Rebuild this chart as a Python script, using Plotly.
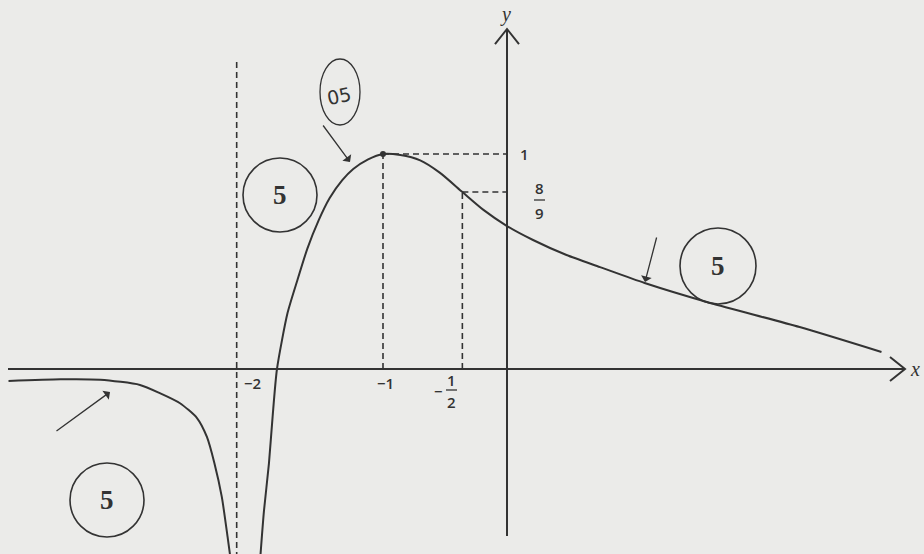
import plotly.graph_objects as go

# curve, in graph units (x: dot at -1, y: dot at 1)
left_x = [-4.02, -3.60, -3.28, -2.96, -2.80, -2.64, -2.50, -2.42, -2.36, -2.30, -2.25, -2.23]
left_y = [-0.056, -0.048, -0.050, -0.074, -0.112, -0.158, -0.228, -0.316, -0.437, -0.595, -0.795, -0.88]

right_x = [-1.99, -1.96, -1.92, -1.89, -1.855, -1.77, -1.69, -1.61, -1.52, -1.43, -1.33,
           -1.24, -1.12, -1.0, -0.86, -0.70, -0.54, -0.36, -0.19, 0.0, 0.21, 0.48,
           0.75, 1.11, 1.64, 2.36, 3.02]
right_y = [-0.88, -0.66, -0.44, -0.22, 0.0, 0.260, 0.414, 0.560, 0.690, 0.795, 0.877,
           0.930, 0.975, 1.0, 0.995, 0.970, 0.912, 0.823, 0.740, 0.665, 0.600, 0.530,
           0.474, 0.400, 0.307, 0.195, 0.079]

asymptote_x = -2.18
max_pt = (-1.0, 1.0)
half_pt = (-0.36, 0.823)

x_tick_labels = ["\u22122", "\u22121"]
x_tick_pos = [-2.05, -0.98]

INK = "#333333"
PAPER = "#ebebe9"


# the scan is 124 px per x unit, 215 px per y unit, origin at (507, 369)
def u(px, py):
    return (px - 507) / 124, (369 - py) / 215


fig = go.Figure()

curve_line = dict(color=INK, width=2, shape="spline", smoothing=0.65)
fig.add_trace(go.Scatter(x=left_x, y=left_y, mode="lines", line=curve_line, hoverinfo="skip"))
fig.add_trace(go.Scatter(x=right_x, y=right_y, mode="lines", line=curve_line, hoverinfo="skip"))
fig.add_trace(go.Scatter(x=[max_pt[0]], y=[max_pt[1]], mode="markers",
                         marker=dict(color=INK, size=6), hoverinfo="skip"))

shapes = []
solid = dict(color=INK, width=2)
dash = dict(color=INK, width=1.6, dash="6px,4px")


def seg(p, q, line):
    shapes.append(dict(type="line", x0=p[0], y0=p[1], x1=q[0], y1=q[1], line=line, layer="below"))


def path(pts, line):
    d = "M " + " L ".join(f"{x:.4f},{y:.4f}" for x, y in pts)
    shapes.append(dict(type="path", path=d, line=line))


# axes with open arrowheads
seg(u(8, 369), u(905, 369), solid)
path([u(890, 357), u(905, 369), u(890, 381)], solid)
seg(u(507, 536), u(507, 29), solid)
path([u(495, 44), u(507, 29), u(519, 44)], solid)

# asymptote and guide lines
seg((asymptote_x, u(0, 62)[1]), (asymptote_x, -0.9), dash)
seg((max_pt[0], 0), max_pt, dash)
seg(max_pt, (0, max_pt[1]), dash)
seg((half_pt[0], 0), half_pt, dash)
seg(half_pt, (0, half_pt[1]), dash)

# fraction bars
seg(u(446, 390), u(457, 390), dict(color=INK, width=1.3))
seg(u(534, 200), u(545, 200), dict(color=INK, width=1.3))

# grader's circled marks
circles = [(280, 195, 37), (718, 266, 38), (107, 500, 37)]
for cx, cy, r in circles:
    x, y = u(cx, cy)
    shapes.append(dict(type="circle", xsizemode="pixel", ysizemode="pixel",
                       xanchor=x, yanchor=y, x0=-r, x1=r, y0=-r, y1=r,
                       line=dict(color=INK, width=1.6)))
ex, ey = u(340, 92)
shapes.append(dict(type="circle", xsizemode="pixel", ysizemode="pixel",
                   xanchor=ex, yanchor=ey, x0=-20, x1=20, y0=-33, y1=33,
                   line=dict(color=INK, width=1.3)))

tick_font = dict(family="Open Sans", size=15, color=INK, weight=600)
ann = []


def text(pt, s, font=tick_font, **kw):
    ann.append(dict(x=pt[0], y=pt[1], text=s, showarrow=False, font=font, **kw))


for pos, lab in zip(x_tick_pos, x_tick_labels):
    text((pos, u(0, 383)[1]), lab)
text(u(438, 391), "\u2212")
text(u(451, 380), "1")
text(u(451, 402), "2")
text(u(524, 154), "1")
text(u(539, 188), "8")
text(u(539, 213), "9")

serif_it = dict(family="Liberation Serif", size=20, color=INK)
text(u(505, 14), "<i>y</i>", serif_it)
text(u(915, 369), "<i>x</i>", serif_it)

five = dict(family="Liberation Serif", size=27, color=INK)
for cx, cy, r in circles:
    text(u(cx, cy), "<b>5</b>", five)
text(u(339, 96), "05", dict(family="DejaVu Sans", size=19, color=INK), textangle=-12)

# hand-drawn pointer arrows
for tail, head in [((322, 124), (350, 162)), ((657, 236), (645, 282)), ((55, 432), (110, 392))]:
    hx, hy = u(*head)
    tx, ty = u(*tail)
    ann.append(dict(x=hx, y=hy, ax=tx, ay=ty, axref="x", ayref="y", text="",
                    showarrow=True, arrowhead=1, arrowsize=1.4, arrowwidth=1.3,
                    arrowcolor=INK))

x0, y0 = u(0, 554)
x1, y1 = u(924, 0)
fig.update_layout(
    width=924, height=554,
    margin=dict(l=0, r=0, t=0, b=0),
    paper_bgcolor=PAPER, plot_bgcolor=PAPER,
    showlegend=False,
    xaxis=dict(range=[x0, x1], visible=False, fixedrange=True),
    yaxis=dict(range=[y0, y1], visible=False, fixedrange=True),
    shapes=shapes,
    annotations=ann,
)

fig.write_html("out.html", config={"displayModeBar": False},
               post_script="document.body.style.margin='0';document.body.style.overflow='hidden';")
